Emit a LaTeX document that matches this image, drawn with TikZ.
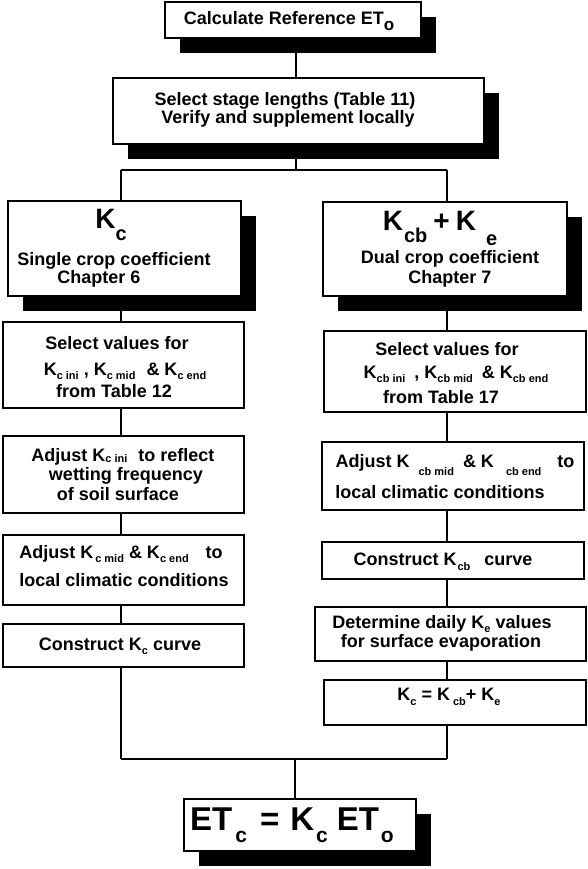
\documentclass[tikz,border=0pt]{standalone}
\usepackage{fontspec}
\setmainfont{Liberation Sans}
\usetikzlibrary{shadows}
\newcommand\sbs[2][4pt]{\raisebox{-#1}{\fontsize{11}{11}\selectfont #2}}
\newcommand\bigsub[2][12pt]{\raisebox{-#1}{\fontsize{20}{20}\selectfont #2}}
\newcommand\eqsub[1]{\raisebox{-12pt}{\fontsize{21}{21}\selectfont #1}}
\pgfdeclarelayer{back}
\pgfsetlayers{back,main}
\begin{document}
\begin{tikzpicture}[x=1pt,y=-1pt,
  box/.style={draw, line width=2pt, fill=white, inner sep=0pt, anchor=center},
  shbox/.style={box, drop shadow={shadow xshift=15pt, shadow yshift=-15pt, fill=black, opacity=1}},
  conn/.style={line width=2pt},
  txt/.style={anchor=base, inner sep=0pt, font=\bfseries\fontsize{18}{20}\selectfont},
  bigtxt/.style={anchor=base, inner sep=0pt, font=\bfseries\fontsize{28}{30}\selectfont},
  eqtxt/.style={anchor=base, inner sep=0pt, font=\bfseries\fontsize{33}{35}\selectfont}]
\useasboundingbox (0,0) rectangle (587,869);
% boxes
\node[shbox, minimum width=256pt, minimum height=36pt] (top) at (293,20) {};
\node[shbox, minimum width=371pt, minimum height=66pt] (sel) at (298.5,111) {};
\node[shbox, minimum width=233pt, minimum height=95pt] (kc) at (124.5,248.5) {};
\node[shbox, minimum width=244pt, minimum height=94pt] (kcb) at (445,249) {};
\node[box, minimum width=241pt, minimum height=86pt] (L2) at (123.5,365) {};
\node[box, minimum width=241pt, minimum height=77pt] (L3) at (123.5,474.5) {};
\node[box, minimum width=241pt, minimum height=70pt] (L4) at (123.5,570) {};
\node[box, minimum width=241pt, minimum height=43pt] (L5) at (123.5,645.5) {};
\node[box, minimum width=262pt, minimum height=81pt] (R2) at (455,371.5) {};
\node[box, minimum width=262pt, minimum height=68pt] (R3) at (453,476) {};
\node[box, minimum width=262pt, minimum height=37pt] (R4) at (453,560.5) {};
\node[box, minimum width=271pt, minimum height=54pt] (R5) at (450.5,634) {};
\node[box, minimum width=262pt, minimum height=45pt] (R6) at (455,702.5) {};
\node[shbox, minimum width=232pt, minimum height=52pt] (etc) at (300,825) {};
% junction coordinates
\coordinate (cT) at (296,0);
\coordinate (sC) at (296,170);
\coordinate (sL) at (121,170);
\coordinate (sR) at (447,170);
\coordinate (jL) at (121,759);
\coordinate (jR) at (447,759);
\coordinate (jC) at (295,759);
% connectors
\begin{pgfonlayer}{back}
\draw[conn] (top.south -| cT) -- (sel.north -| cT);
\draw[conn] (sel.south -| cT) -- (sC);
\draw[conn] (sL) -- (sR);
\draw[conn] (sL) -- (kc.north -| sL);
\draw[conn] (sR) -- (kcb.north -| sR);
\draw[conn] (kc.south -| sL) -- (L2.north -| sL);
\draw[conn] (L2.south -| sL) -- (L3.north -| sL);
\draw[conn] (L3.south -| sL) -- (L4.north -| sL);
\draw[conn] (L4.south -| sL) -- (L5.north -| sL);
\draw[conn] (L5.south -| sL) -- (jL);
\draw[conn] (kcb.south -| sR) -- (R2.north -| sR);
\draw[conn] (R2.south -| sR) -- (R3.north -| sR);
\draw[conn] (R3.south -| sR) -- (R4.north -| sR);
\draw[conn] (R4.south -| sR) -- (R5.north -| sR);
\draw[conn] (R5.south -| sR) -- (R6.north -| sR);
\draw[conn] (R6.south -| sR) -- (jR);
\draw[conn] (jL) -- (jR);
\draw[conn] (jC) -- (etc.north -| jC);
\end{pgfonlayer}
% texts
\node[txt] (t1) at (289,25) {Calculate Reference ET\raisebox{-6pt}{\fontsize{17}{17}\selectfont o}};
\node[txt] (t2) at (285,106) {Select stage lengths (Table 11)};
\node[txt] (t3) at (288,124) {Verify and supplement locally};
\node[bigtxt] (t4) at (111,228) {K\bigsub{c}};
\node[txt] (t5) at (114,265) {Single crop coefficient};
\node[txt] (t6) at (99,283) {Chapter 6};
\node[bigtxt] (t7) at (440,230) {K\hspace{1pt}\bigsub{cb}\hspace{6pt}+\hspace{6pt}K\hspace{10pt}\bigsub[15pt]{e}};
\node[txt] (t8) at (450,263) {Dual crop coefficient};
\node[txt] (t9) at (450,283) {Chapter 7};
\node[txt] (t10) at (117,349) {Select values for};
\node[txt] (t11) at (125,375) {K\sbs{c ini} , K\sbs{c mid}\hspace{6pt} \& K\sbs{c end}};
\node[txt] (t12) at (114,397) {from Table 12};
\node[txt] (t13) at (123,461) {Adjust K\sbs[1pt]{c ini}\hspace{6pt} to reflect};
\node[txt] (t14) at (126,480) {wetting frequency};
\node[txt] (t15) at (118,500) {of soil surface};
\node[txt] (t16) at (121,558) {Adjust K\hspace{2pt}\sbs{c mid} \& K\sbs{c end}\hspace{12pt} to};
\node[txt] (t17) at (124,586) {local climatic conditions};
\node[txt] (t18) at (120,650) {Construct K\sbs{c} curve};
\node[txt] (t19) at (447,355) {Select values for};
\node[txt] (t20) at (456,378) {K\sbs{cb ini}\hspace{4pt} , K\sbs{cb mid}\hspace{4pt} \& K\sbs{cb end}};
\node[txt] (t21) at (441,403) {from Table 17};
\node[txt] (t22) at (455,467) {Adjust K\hspace{9pt}\sbs[8pt]{cb mid}\hspace{9pt}\& K\hspace{12pt}\sbs[8pt]{cb end}\hspace{16pt}to};
\node[txt] (t23) at (440,498) {local climatic conditions};
\node[txt] (t24) at (443,565) {Construct K\hspace{1pt}\sbs[5pt]{cb}\hspace{14pt}curve};
\node[txt] (t25) at (442,628) {Determine daily K\sbs{e} values};
\node[txt] (t26) at (441,647) {for surface evaporation};
\node[txt] (t27) at (449,700) {K\sbs[5pt]{c} = K\hspace{3pt}\sbs[5pt]{cb}+ K\sbs[5pt]{e}};
\node[eqtxt] (t28) at (292,830) {ET\hspace{3pt}\eqsub{c}\hspace{13pt}=\hspace{11pt}K\hspace{2pt}\eqsub{c}\hspace{9pt}ET\hspace{2pt}\eqsub{o}};
\end{tikzpicture}
\end{document}
